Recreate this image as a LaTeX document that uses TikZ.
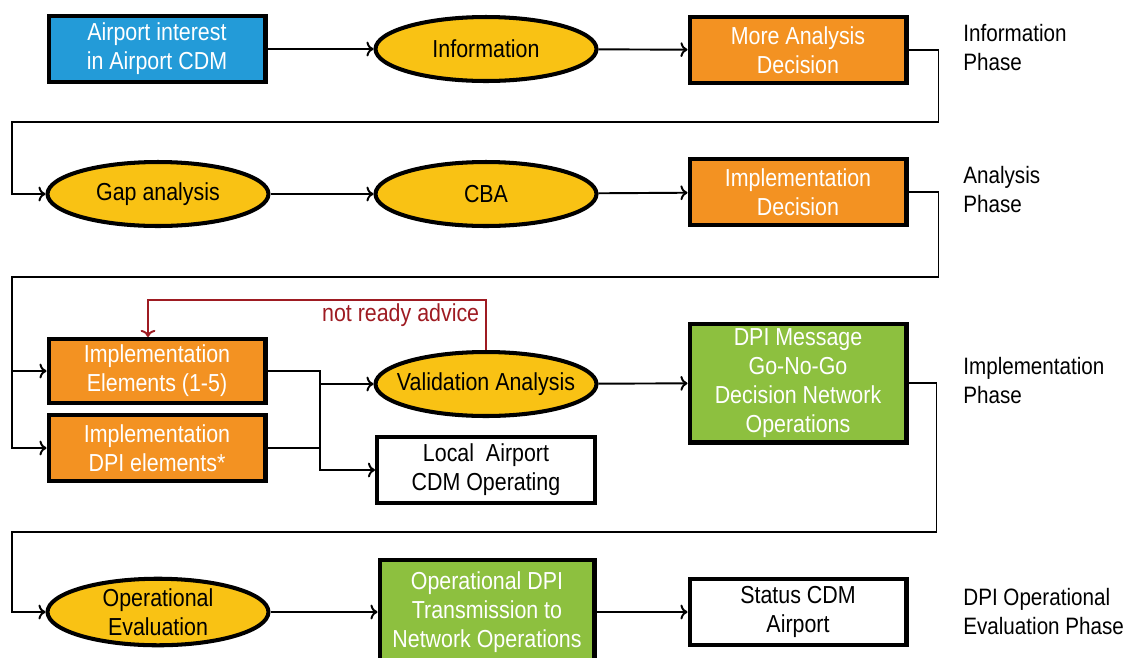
\documentclass[tikz,border=0pt]{standalone}
\usepackage{fontspec}
\setmainfont{Liberation Sans}[FakeStretch=0.87]
\usepackage{xcolor}
\usepackage{tikz}
\usetikzlibrary{shapes,arrows,positioning,calc,arrows.meta}

\definecolor{cdmblue}{HTML}{239BD8}
\definecolor{cdmyellow}{HTML}{F9C214}
\definecolor{cdmorange}{HTML}{F39222}
\definecolor{cdmgreen}{HTML}{8DC03F}
\definecolor{cdmred}{HTML}{9E1B22}

\tikzset{
    txt/.style={font=\fontsize{14}{16.5}\selectfont, align=center},
    box/.style={txt, draw, line width=2.3pt, minimum width=4.34cm, minimum height=1.32cm, inner sep=1pt},
    oval/.style={txt, ellipse, draw, line width=2.3pt, fill=cdmyellow, minimum width=4.42cm, minimum height=1.28cm, inner xsep=-0.3cm, inner ysep=0pt},
    conn/.style={->, line width=1.1pt},
    line/.style={line width=1.1pt},
    fb/.style={->, line width=1.1pt, cdmred},
    phase/.style={font=\fontsize{13.5}{16.5}\selectfont, align=left, anchor=west, inner sep=0pt}
}

\begin{document}
\begin{tikzpicture}[x=0.02cm, y=-0.02cm]
    \useasboundingbox (0,0) rectangle (1127,657);

    % information phase
    \node[box, fill=cdmblue, text=white] (air) at (157,49) {Airport interest\\in Airport CDM};
    \node[oval] (info) at (486,49) {Information};
    \node[box, fill=cdmorange, text=white] (more) at (798,50) {More Analysis\\Decision};
    \node[phase] (ph1) at (963,48) {Information\\Phase};

    % analysis phase
    \node[oval] (gap) at (158,194) {Gap analysis};
    \node[oval] (cba) at (486,194) {CBA};
    \node[box, fill=cdmorange, text=white] (impdec) at (798,192) {Implementation\\Decision};
    \node[phase] (ph2) at (963,190) {Analysis\\Phase};

    % implementation phase
    \node[box, fill=cdmorange, text=white, minimum height=1.28cm] (elem) at (157,371) {Implementation\\Elements (1-5)};
    \node[box, fill=cdmorange, text=white, minimum height=1.32cm] (dpiel) at (157,448) {Implementation\\DPI elements*};
    \node[oval] (valid) at (486,384) {Validation Analysis};
    \node[box, fill=white, minimum width=4.36cm] (local) at (486,470) {Local\ \ Airport\\CDM Operating};
    \node[box, fill=cdmgreen, text=white, minimum height=2.38cm] (dpimsg) at (798,383) {DPI Message\\Go-No-Go\\Decision Network\\Operations};
    \node[phase] (ph3) at (963,381) {Implementation\\Phase};

    % operational evaluation phase
    \node[oval] (opeval) at (158,612) {Operational\\Evaluation};
    \node[box, fill=cdmgreen, text=white, minimum width=4.3cm, minimum height=2.1cm] (opdpi) at (487,612) {Operational DPI\\Transmission to\\Network Operations};
    \node[box, fill=white] (status) at (798,612) {Status CDM\\Airport};
    \node[phase] (ph4) at (963,612) {DPI Operational\\Evaluation Phase};

    % connectors
    \draw[conn] (air) -- (info);
    \draw[conn] (info) -- (more);
    \draw[conn] (more.east) -- ++(30,0) |- (12,122) |- (gap.west);
    \draw[conn] (gap) -- (cba);
    \draw[conn] (cba) -- (impdec);
    \coordinate (lbus) at (12,277);
    \draw[conn] (impdec.east) -- ++(30,0) |- (lbus) |- (elem.west);
    \draw[conn] (lbus) |- (dpiel.west);
    \coordinate (jn) at (320,470);
    \draw[conn] (elem.east) -| (jn) -- (local.west);
    \draw[line] (dpiel.east) -- (jn |- dpiel.east);
    \draw[conn] (jn |- valid.west) -- (valid.west);
    \draw[fb] (valid.north) -- node[pos=0.7, left, text=cdmred, txt] {not ready advice} ++(0,-50) -| ([xshift=-0.18cm]elem.north);
    \draw[conn] (valid) -- (dpimsg);
    \draw[conn] (dpimsg.east) -- ++(28,0) |- (12,532) |- (opeval.west);
    \draw[conn] (opeval) -- (opdpi);
    \draw[conn] (opdpi.east |- status.west) -- (status.west);
\end{tikzpicture}
\end{document}
